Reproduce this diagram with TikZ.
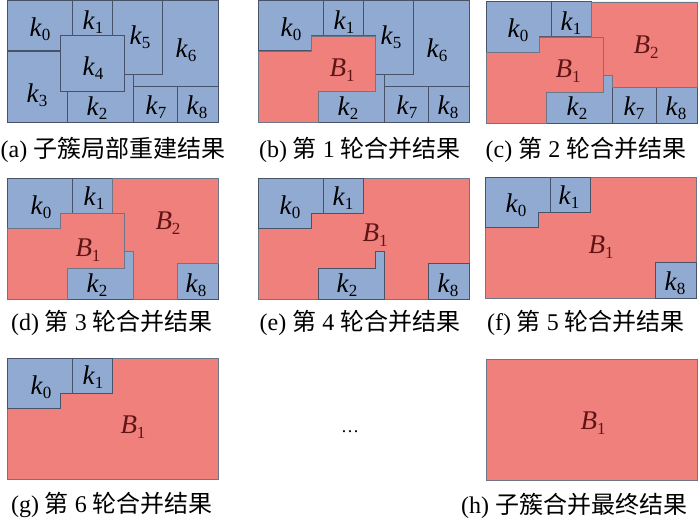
\documentclass[tikz,border=0pt]{standalone}
\usepackage{fontspec}
\setmainfont{Liberation Serif}
\newfontfamily\cjk{Noto Sans CJK SC}
\definecolor{kblue}{RGB}{145,170,210}
\definecolor{bred}{RGB}{240,128,124}
\definecolor{kedge}{RGB}{72,82,104}
\definecolor{btext}{RGB}{95,20,22}
\newcommand{\cn}[1]{{\cjk #1}}
\newcommand{\kl}[1]{\textit{k}\raisebox{-0.35ex}{\fontsize{17}{17}\selectfont #1}}
\newcommand{\bl}[1]{\textcolor{btext}{\textit{B}\raisebox{-0.35ex}{\fontsize{17}{17}\selectfont #1}}}
\newcommand{\rkzero}{(0,0) -- (65,0) -- (65,35) -- (53,35) -- (53,50) -- (0,50) -- cycle}
\newcommand{\rkone}{(65,0) rectangle (105,35)}
\newcommand{\rktwo}{(60,90) -- (117,90) -- (117,73) -- (126,73) -- (126,121) -- (60,121) -- cycle}
\newcommand{\rkthree}{(0,50) -- (53,50) -- (53,90) -- (60,90) -- (60,121) -- (0,121) -- cycle}
\newcommand{\rkfour}{(53,35) rectangle (117,90)}
\newcommand{\rkfive}{(105,0) -- (155,0) -- (155,73) -- (117,73) -- (117,35) -- (105,35) -- cycle}
\newcommand{\rksix}{(155,0) -- (211,0) -- (211,85) -- (126,85) -- (126,73) -- (155,73) -- cycle}
\newcommand{\rkseven}{(126,85) rectangle (170,121)}
\newcommand{\rkeight}{(170,85) rectangle (211,121)}
\newcommand{\rbone}{(0,50) -- (53,50) -- (53,35) -- (117,35) -- (117,90) -- (60,90) -- (60,121) -- (0,121) -- cycle}
\newcommand{\rbtwo}{(105,0) -- (211,0) -- (211,85) -- (126,85) -- (126,73) -- (117,73) -- (117,35) -- (105,35) -- cycle}
\newcommand{\rbtwoc}{(105,0) -- (211,0) -- (211,85) -- (170,85) -- (170,121) -- (126,121) -- (126,73) -- (117,73) -- (117,35) -- (105,35) -- cycle}
\newcommand{\rall}{(0,0) rectangle (211,121)}
\begin{document}
\begin{tikzpicture}[x=1pt,y=-1pt]
    \tikzstyle{blu}=[fill=kblue, draw=kedge, line width=1pt]
    \tikzstyle{rd}=[fill=bred, draw=kedge!80, line width=0.8pt]
    \tikzstyle{lab}=[font=\fontsize{27}{27}\selectfont, inner sep=0pt]
    \tikzstyle{subcap}=[font=\fontsize{24}{28}\selectfont, anchor=base, inner sep=0pt]
    \useasboundingbox (0,0) rectangle (700,519);
    % (a)
    \begin{scope}[shift={(7,1)}]
    \filldraw[blu] \rkzero; \filldraw[blu] \rkone; \filldraw[blu] \rkthree;
    \filldraw[blu] \rkfive; \filldraw[blu] \rksix; \filldraw[blu] \rkseven;
    \filldraw[blu] \rkeight; \filldraw[blu] \rktwo; \filldraw[blu] \rkfour;
    \node[lab] (a0) at (33,28){\kl{0}};
    \node[lab] (a1) at (86,21){\kl{1}};
    \node[lab] (a2) at (90,107){\kl{2}};
    \node[lab] (a3) at (30,94){\kl{3}};
    \node[lab] (a4) at (86,67){\kl{4}};
    \node[lab] (a5) at (133,36){\kl{5}};
    \node[lab] (a6) at (179,49){\kl{6}};
    \node[lab] (a7) at (149,106){\kl{7}};
    \node[lab] (a8) at (190,106){\kl{8}};
    \end{scope}
    % (b)
    \begin{scope}[shift={(258,1)}]
    \filldraw[blu] \rkzero; \filldraw[blu] \rkone; \filldraw[blu] \rkfive;
    \filldraw[blu] \rksix; \filldraw[blu] \rkseven; \filldraw[blu] \rkeight;
    \filldraw[blu] \rktwo; \filldraw[rd] \rbone;
    \node[lab] (b0) at (33,28){\kl{0}};
    \node[lab] (b1) at (86,21){\kl{1}};
    \node[lab] (b2) at (90,107){\kl{2}};
    \node[lab] (b5) at (133,36){\kl{5}};
    \node[lab] (b6) at (179,49){\kl{6}};
    \node[lab] (b7) at (149,106){\kl{7}};
    \node[lab] (b8) at (190,106){\kl{8}};
    \node[lab] (bB1) at (84,69){\bl{1}};
    \end{scope}
    % (c)
    \begin{scope}[shift={(486,2)}]
    \filldraw[blu] \rkzero; \filldraw[blu] \rkone; \filldraw[blu] \rkseven;
    \filldraw[blu] \rkeight; \filldraw[blu] \rktwo;
    \filldraw[rd] \rbtwo; \filldraw[rd] \rbone;
    \node[lab] (c0) at (32,28){\kl{0}};
    \node[lab] (c1) at (85,21){\kl{1}};
    \node[lab] (c2) at (91,106){\kl{2}};
    \node[lab] (c7) at (148,106){\kl{7}};
    \node[lab] (c8) at (190,106){\kl{8}};
    \node[lab] (cB1) at (82,69){\bl{1}};
    \node[lab] (cB2) at (160,45){\bl{2}};
    \end{scope}
    % (d)
    \begin{scope}[shift={(7,178)}]
    \filldraw[blu] \rkzero; \filldraw[blu] \rkone; \filldraw[blu] \rkeight;
    \filldraw[blu] \rktwo; \filldraw[rd] \rbtwoc; \filldraw[rd] \rbone;
    \node[lab] (d0) at (34,29){\kl{0}};
    \node[lab] (d1) at (87,20){\kl{1}};
    \node[lab] (d2) at (90,107){\kl{2}};
    \node[lab] (d8) at (189,107){\kl{8}};
    \node[lab] (dB1) at (81,72){\bl{1}};
    \node[lab] (dB2) at (161,45){\bl{2}};
    \end{scope}
    % (e)
    \begin{scope}[shift={(258,178)}]
    \filldraw[rd] \rall;
    \filldraw[blu] \rkzero; \filldraw[blu] \rkone; \filldraw[blu] \rkeight;
    \filldraw[blu] \rktwo;
    \node[lab] (e0) at (32,29){\kl{0}};
    \node[lab] (e1) at (85,20){\kl{1}};
    \node[lab] (e2) at (89,107){\kl{2}};
    \node[lab] (e8) at (190,107){\kl{8}};
    \node[lab] (eB1) at (117,57){\bl{1}};
    \end{scope}
    % (f)
    \begin{scope}[shift={(485,177)}]
    \filldraw[rd] \rall;
    \filldraw[blu] \rkzero; \filldraw[blu] \rkone; \filldraw[blu] \rkeight;
    \node[lab] (f0) at (31,28){\kl{0}};
    \node[lab] (f1) at (84,20){\kl{1}};
    \node[lab] (f8) at (190,106){\kl{8}};
    \node[lab] (fB1) at (116,70){\bl{1}};
    \end{scope}
    % (g)
    \begin{scope}[shift={(7,358)}]
    \filldraw[rd] \rall;
    \filldraw[blu] \rkzero; \filldraw[blu] \rkone;
    \node[lab] (g0) at (34,29){\kl{0}};
    \node[lab] (g1) at (86,19){\kl{1}};
    \node[lab] (gB1) at (126,69){\bl{1}};
    \end{scope}
    % (h)
    \begin{scope}[shift={(486,359)}]
    \filldraw[rd] \rall;
    \node[lab] (hB1) at (107,64){\bl{1}};
    \end{scope}
    \node[anchor=base, inner sep=0pt, font=\fontsize{18}{18}\selectfont] (dots) at (350,432){\textellipsis};
    \node[subcap] (capa) at (113,157){(a) \cn{子簇局部重建结果}};
    \node[subcap] (capb) at (360,157){(b) \cn{第} 1 \cn{轮合并结果}};
    \node[subcap] (capc) at (586,157){(c) \cn{第} 2 \cn{轮合并结果}};
    \node[subcap] (capd) at (112,330){(d) \cn{第} 3 \cn{轮合并结果}};
    \node[subcap] (cape) at (360,330){(e) \cn{第} 4 \cn{轮合并结果}};
    \node[subcap] (capf) at (586,330){(f) \cn{第} 5 \cn{轮合并结果}};
    \node[subcap] (capg) at (112,512){(g) \cn{第} 6 \cn{轮合并结果}};
    \node[subcap] (caph) at (574,513){(h) \cn{子簇合并最终结果}};
    %\draw (dots) -- (hB1);
  \end{tikzpicture}
\end{document}
